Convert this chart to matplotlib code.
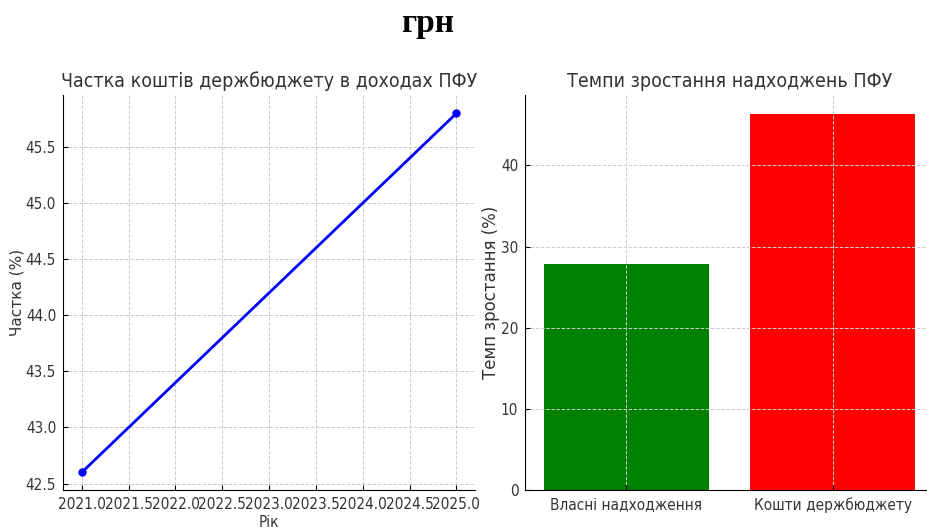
import matplotlib
matplotlib.use("Agg")
import matplotlib.pyplot as plt
from matplotlib.ticker import MultipleLocator, FormatStrFormatter

years = [2021, 2025]
share = [42.6, 45.8]
categories = ["Власні надходження", "Кошти держбюджету"]
growth = [27.8, 46.3]

plt.rcParams['font.family'] = ['DejaVu Sans']
plt.rcParams['font.stretch'] = 'condensed'
plt.rcParams['xtick.direction'] = 'in'
plt.rcParams['ytick.direction'] = 'in'

fig = plt.figure(figsize=(9.28, 5.3), dpi=100)
fig.text(0.461, 0.955, "грн", ha='center', va='center', fontsize=24,
         fontweight='bold', family='Liberation Serif')

ax1 = fig.add_axes([0.068, 0.075, 0.444, 0.745])
ax2 = fig.add_axes([0.566, 0.075, 0.44, 0.745])

ax1.plot(years, share, color='blue', marker='o', linewidth=2, markersize=5, zorder=3)
ax1.set_title("Частка коштів держбюджету в доходах ПФУ", fontsize=14, color='#333333')
ax1.set_xlabel("Рік", fontsize=11, labelpad=2, color='#333333')
ax1.set_ylabel("Частка (%)", fontsize=11, fontstretch='normal', color='#333333', labelpad=1)
ax1.xaxis.set_major_locator(MultipleLocator(0.5))
ax1.xaxis.set_major_formatter(FormatStrFormatter('%.1f'))

ax2.bar(categories, growth, color=['green', 'red'])
ax2.set_title("Темпи зростання надходжень ПФУ", fontsize=14, color='#333333')
ax2.set_ylabel("Темп зростання (%)", fontsize=12, fontstretch='normal', color='#333333', labelpad=1)

for ax in (ax1, ax2):
    ax.grid(True, linestyle='--', color='#cccccc', linewidth=0.7)
    ax.set_axisbelow(False)
    ax.spines['top'].set_visible(False)
    ax.spines['right'].set_visible(False)
    ax.tick_params(labelsize=11, labelcolor='#333333', pad=5)

plt.savefig("out.png", dpi=100)
